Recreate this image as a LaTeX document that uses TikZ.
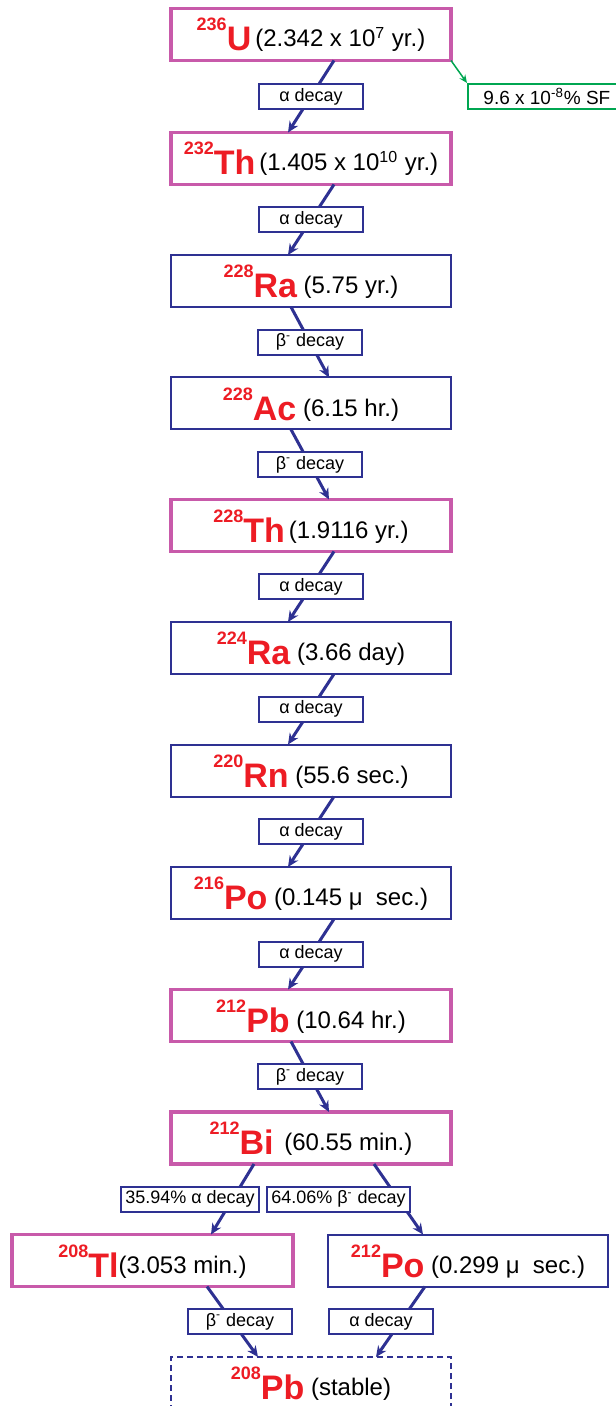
\documentclass[tikz,border=0pt]{standalone}
\usepackage{fontspec}
\setmainfont{Liberation Sans}
\usepackage{xcolor}
\usetikzlibrary{arrows.meta, positioning, calc}
\definecolor{decayblue}{RGB}{46,49,146}
\definecolor{longpink}{RGB}{200,90,170}
\definecolor{isored}{RGB}{237,28,36}
\definecolor{fissiongreen}{RGB}{0,166,81}
\newcommand{\nuc}[2]{%
  \raisebox{8pt}{\fontsize{9}{9}\selectfont\bfseries\color{isored}#1}%
  \raisebox{-2pt}{\fontsize{17}{17}\selectfont\bfseries\color{isored}#2}}
\begin{document}
\begin{tikzpicture}[
    x=0.5pt, y=-0.5pt,
    nuclide/.style={rectangle, draw=#1, line width=1pt, fill=white,
                minimum width=140pt, minimum height=26pt, inner sep=0pt, outer sep=0pt,
                text height=12.5pt, text depth=0pt, font=\fontsize{12}{13}\selectfont},
    longlived/.style={nuclide=longpink, line width=1.75pt},
    decay/.style={draw=decayblue, line width=1.5pt, -{Stealth[length=5.5pt, width=5pt]}},
    mode/.style={rectangle, draw=#1, line width=0.9pt, fill=white,
                minimum width=52pt, minimum height=12.5pt, inner xsep=2pt, inner ysep=0pt,
                font=\fontsize{9}{10}\selectfont},
    mode/.default=decayblue
]
    \useasboundingbox (0,0) rectangle (615,1406);

    % main chain
    \node[longlived] (u236) at (311,34.5) {\nuc{236}{U}\,(2.342 x 10\textsuperscript{7} yr.)};
    \node[longlived] (th232) at (311,158.5) {\nuc{232}{Th}\,(1.405 x 10\textsuperscript{10} yr.)};
    \node[nuclide=decayblue] (ra228) at (311,281) {\nuc{228}{Ra} (5.75 yr.)};
    \node[nuclide=decayblue] (ac228) at (311,403.5) {\nuc{228}{Ac} (6.15 hr.)};
    \node[longlived] (th228) at (311,525.5) {\nuc{228}{Th}\,(1.9116 yr.)};
    \node[nuclide=decayblue] (ra224) at (311,648) {\nuc{224}{Ra} (3.66 day)};
    \node[nuclide=decayblue] (rn220) at (311,770.5) {\nuc{220}{Rn} (55.6 sec.)};
    \node[nuclide=decayblue] (po216) at (311,893) {\nuc{216}{Po} (0.145 μ\ \ sec.)};
    \node[longlived] (pb212) at (311,1015.5) {\nuc{212}{Pb} (10.64 hr.)};
    \node[longlived] (bi212) at (311,1138) {\nuc{212}{Bi} \,(60.55 min.)};

    % branches
    \node[longlived, minimum width=140.5pt] (tl208) at (152.5,1260.5) {\nuc{208}{Tl}(3.053 min.)};
    \node[nuclide=decayblue] (po212) at (468,1260.5) {\nuc{212}{Po} (0.299 μ\ \ sec.)};
    \node[nuclide=decayblue, dash pattern=on 3pt off 2pt] (pb208) at (311,1383) {\nuc{208}{Pb} (stable)};

    % spontaneous fission
    \node[mode=fissiongreen, minimum width=79pt, anchor=north west, font=\fontsize{9.5}{10}\selectfont]
        (sf) at (467,83) {9.6 x 10\textsuperscript{-8}\% SF};
    \draw[draw=fissiongreen, line width=0.75pt, -{Stealth[length=4pt, width=3.5pt]}]
        (u236.south east) -- (sf.north west);

    % decays
    \draw[decay] ([xshift=11.5pt]u236.south) -- node[mode] {α decay} ([xshift=-11.5pt]th232.north);
    \draw[decay] ([xshift=11.5pt]th232.south) -- node[mode] {α decay} ([xshift=-11.5pt]ra228.north);
    \draw[decay] ([xshift=-10pt]ra228.south) -- node[mode] {β\textsuperscript{-} decay} ([xshift=9pt]ac228.north);
    \draw[decay] ([xshift=-10pt]ac228.south) -- node[mode] {β\textsuperscript{-} decay} ([xshift=9pt]th228.north);
    \draw[decay] ([xshift=11.5pt]th228.south) -- node[mode] {α decay} ([xshift=-11.5pt]ra224.north);
    \draw[decay] ([xshift=11.5pt]ra224.south) -- node[mode] {α decay} ([xshift=-11.5pt]rn220.north);
    \draw[decay] ([xshift=11.5pt]rn220.south) -- node[mode] {α decay} ([xshift=-11.5pt]po216.north);
    \draw[decay] ([xshift=11.5pt]po216.south) -- node[mode] {α decay} ([xshift=-11.5pt]pb212.north);
    \draw[decay] ([xshift=-10pt]pb212.south) -- node[mode] {β\textsuperscript{-} decay} ([xshift=9pt]bi212.north);

    \draw[decay] ([xshift=-28.5pt]bi212.south) -- node[mode, xshift=-21.25pt] {35.94\% α decay} ([xshift=29.25pt]tl208.north);
    \draw[decay] ([xshift=31.5pt]bi212.south) -- node[mode, xshift=-30pt] {64.06\% β\textsuperscript{-} decay} ([xshift=-22.5pt]po212.north);
    \draw[decay] ([xshift=27.25pt]tl208.south) -- node[mode, xshift=3.75pt] {β\textsuperscript{-} decay} ([xshift=-26.5pt]pb208.north);
    \draw[decay] ([xshift=-21.5pt]po212.south) -- node[mode, xshift=-9.75pt] {α decay} ([xshift=32.5pt]pb208.north);
\end{tikzpicture}
\end{document}
